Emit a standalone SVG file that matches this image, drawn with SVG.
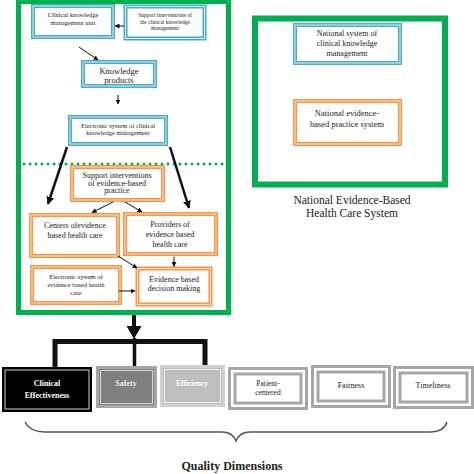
<svg xmlns="http://www.w3.org/2000/svg" width="474" height="474" viewBox="0 0 474 474">
<defs>
<style>
text{font-family:"Liberation Serif","Times New Roman",serif;fill:#222;text-anchor:middle}
.frame{fill:none;stroke:#00b050}
.bl{fill:#fff;stroke:#4bacc6;stroke-width:4}
.bli{fill:none;stroke:#d6edf3;stroke-width:1}
.or{fill:#fff;stroke:#f79646;stroke-width:4}
.ori{fill:none;stroke:#fde0c8;stroke-width:1}
.ar{stroke:#111;stroke-width:1;fill:none;marker-end:url(#ah)}
.tk{stroke:#111;stroke-width:2.5;fill:none;marker-end:url(#ahb)}
.gb{fill:#fff;stroke:#a6a6a6;stroke-width:3}
.gbi{fill:none;stroke:#a6a6a6;stroke-width:3}
</style>
<marker id="ah" viewBox="0 0 10 10" refX="9" refY="5" markerWidth="5" markerHeight="5" orient="auto" markerUnits="userSpaceOnUse"><path d="M0,0L10,5L0,10z" fill="#111"/></marker>
<marker id="ahb" viewBox="0 0 10 10" refX="9" refY="5" markerWidth="8" markerHeight="8" orient="auto" markerUnits="userSpaceOnUse"><path d="M0,0L10,5L0,10z" fill="#111"/></marker>
</defs>
<rect width="474" height="474" fill="#fff"/>

<g id="frame-main">
<rect class="frame" x="18.5" y="1.5" width="210" height="311" stroke-width="5"/>
<line x1="24" y1="164" x2="224" y2="164" stroke="#00b050" stroke-width="3" stroke-linecap="round" stroke-dasharray="0 6"/>
</g>

<g id="frame-national">
<rect class="frame" x="255" y="18.5" width="190" height="166" stroke-width="6"/>
<text x="352" y="204" font-size="11.5">National Evidence-Based</text>
<text x="352" y="217" font-size="11.5">Health Care System</text>
</g>

<g id="n-ckm-unit">
<rect class="bl" x="33" y="6" width="80" height="31"/><rect class="bli" x="33" y="6" width="80" height="31"/>
<text x="73" y="16.5" font-size="6.5">Clinical knowledge</text>
<text x="73" y="25" font-size="6.5">management unit</text>
</g>
<g id="n-support-ckm">
<rect class="bl" x="125.5" y="6.5" width="79" height="32" stroke-width="5"/><rect class="bli" x="125.5" y="6.5" width="79" height="32"/>
<text x="165" y="17" font-size="5.5">Support interventions of</text>
<text x="165" y="23.5" font-size="5.5">the clinical knowledge</text>
<text x="165" y="30" font-size="5.5">management</text>
</g>
<g id="n-knowledge-products">
<rect class="bl" x="83" y="62" width="72" height="24"/><rect class="bli" x="83" y="62" width="72" height="24"/>
<text x="119" y="73.5" font-size="8.5">Knowledge</text>
<text x="119" y="82.5" font-size="8.5">products</text>
</g>
<g id="n-esckm">
<rect class="bl" x="70" y="117" width="96" height="27"/><rect class="bli" x="70" y="117" width="96" height="27"/>
<text x="118" y="127.5" font-size="6.5">Electronic system of clinical</text>
<text x="118" y="134.5" font-size="6.5">knowledge management</text>
</g>
<g id="n-support-ebp">
<rect class="or" x="72" y="167" width="91" height="33"/><rect class="ori" x="72" y="167" width="91" height="33"/>
<text x="117" y="178" font-size="8">Support interventions</text>
<text x="117" y="185.5" font-size="8">of evidence-based</text>
<text x="117" y="193" font-size="8">practice</text>
</g>
<g id="n-centers">
<rect class="or" x="31" y="215" width="87" height="41"/><rect class="ori" x="31" y="215" width="87" height="41"/>
<text x="75" y="227.5" font-size="8">Centers ofevidence</text>
<text x="75" y="237.5" font-size="8">based health care</text>
</g>
<g id="n-providers">
<rect class="or" x="125" y="214" width="91" height="40"/><rect class="ori" x="125" y="214" width="91" height="40"/>
<text x="170" y="226.5" font-size="8">Providers of</text>
<text x="170" y="236.5" font-size="8">evidence based</text>
<text x="170" y="246.5" font-size="8">health care</text>
</g>
<g id="n-esebhc">
<rect class="or" x="32" y="267" width="88" height="36"/><rect class="ori" x="32" y="267" width="88" height="36"/>
<text x="76" y="279" font-size="6.5">Electronic system of</text>
<text x="76" y="287" font-size="6.5">evidence based health</text>
<text x="76" y="295" font-size="6.5">care</text>
</g>
<g id="n-decision">
<rect class="or" x="137.5" y="268.5" width="73" height="36" stroke="#e5782e" stroke-width="5"/><rect class="ori" x="137.5" y="268.5" width="73" height="36"/>
<text x="174" y="282" font-size="8">Evidence based</text>
<text x="174" y="291" font-size="8">decision making</text>
</g>

<g id="n-national-ckm">
<rect class="bl" x="295" y="25" width="105" height="38" stroke-width="3"/><rect class="bli" x="295" y="25" width="105" height="38"/>
<text x="347" y="36" font-size="8">National system of</text>
<text x="347" y="46" font-size="8">clinical knowledge</text>
<text x="347" y="56" font-size="8">management</text>
</g>
<g id="n-national-ebp">
<rect class="or" x="295" y="101" width="105" height="43" stroke-width="3"/><rect class="ori" x="295" y="101" width="105" height="43"/>
<text x="347" y="116" font-size="8.5">National evidence-</text>
<text x="347" y="127" font-size="8.5">based practice system</text>
</g>

<g id="connectors">
<line class="ar" x1="124" y1="26" x2="115" y2="26"/>
<line class="ar" x1="79" y1="47" x2="98" y2="60"/>
<line class="ar" x1="118" y1="95" x2="118" y2="104"/>
<line class="tk" x1="67" y1="147" x2="48" y2="204"/>
<line class="tk" x1="170" y1="147" x2="189" y2="208"/>
<line class="ar" x1="113" y1="202" x2="92" y2="212.5"/>
<line class="ar" x1="125" y1="202" x2="142" y2="212"/>
<line class="ar" x1="118" y1="256" x2="137" y2="268"/>
<line class="ar" x1="174" y1="256.5" x2="174" y2="266.5"/>
<line class="ar" x1="119" y1="291" x2="135" y2="291"/>
<line x1="134" y1="315" x2="134" y2="328" stroke="#111" stroke-width="4"/>
<path d="M126.5,326L141.5,326L134,339z" fill="#111"/>
<path d="M55,367V341.5H205V365" fill="none" stroke="#111" stroke-width="5"/>
<line x1="134.5" y1="338" x2="134.5" y2="366" stroke="#111" stroke-width="3.5"/>
<path d="M25,422C28,428 34,432 45,432L222,432C230,432 234,436 236,441C238,436 242,432 250,432L430,432C440,432 445,428 447,422" fill="none" stroke="#555" stroke-width="1.5"/>
</g>

<g id="q-clinical">
<rect x="2" y="367" width="90" height="45" fill="#000"/>
<rect x="5" y="370" width="84" height="39" fill="none" stroke="#cfcfcf" stroke-width="1"/>
<text x="47" y="385.5" font-size="8" font-weight="bold" style="fill:#fff">Clinical</text>
<text x="47" y="397.5" font-size="8" font-weight="bold" style="fill:#fff">Effectiveness</text>
</g>
<g id="q-safety">
<rect x="97.5" y="367.5" width="58" height="39" fill="#7f7f7f" stroke="#a6a6a6" stroke-width="3"/>
<rect x="100.5" y="370.5" width="52" height="33" fill="none" stroke="#d9d9d9" stroke-width="1"/>
<text x="126" y="385.5" font-size="8" font-weight="bold" style="fill:#eee">Safety</text>
</g>
<g id="q-efficiency">
<rect x="161.5" y="366.5" width="62" height="39" fill="#bfbfbf" stroke="#d0d0d0" stroke-width="3"/>
<rect x="164.5" y="369.5" width="56" height="33" fill="none" stroke="#eee" stroke-width="1"/>
<text x="192" y="385.5" font-size="7.5" font-weight="bold" style="fill:#fff">Efficiency</text>
</g>
<g id="q-patient">
<rect class="gb" x="229.5" y="368.5" width="77" height="40"/>
<rect class="gbi" x="235" y="374" width="66" height="29"/>
<text x="268" y="386" font-size="7.5">Patient-</text>
<text x="268" y="395" font-size="7.5">centered</text>
</g>
<g id="q-fairness">
<rect class="gb" x="312.5" y="366.5" width="77" height="40"/>
<rect class="gbi" x="318" y="372" width="66" height="29"/>
<text x="351" y="387.5" font-size="8">Fairness</text>
</g>
<g id="q-timeliness">
<rect class="gb" x="394.5" y="367.5" width="78" height="40"/>
<rect class="gbi" x="400" y="373" width="67" height="29"/>
<text x="433" y="387.5" font-size="8">Timeliness</text>
</g>

<text x="232" y="470" font-size="12" font-weight="bold">Quality Dimensions</text>
</svg>
